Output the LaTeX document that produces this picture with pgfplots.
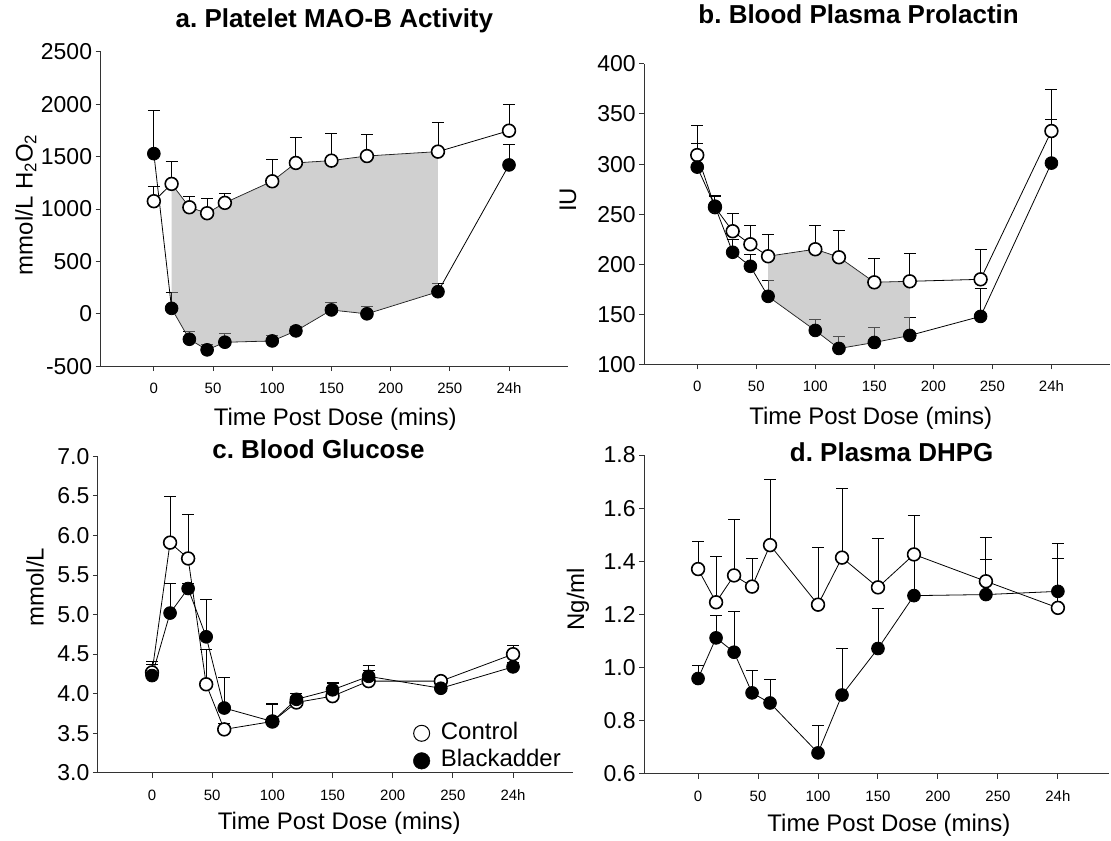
\documentclass[border=0pt]{standalone}
\usepackage{fontspec}
\setmainfont{Liberation Sans}
\usepackage{pgfplots}
\pgfplotsset{compat=1.18}
\usepackage{pgfplotstable}

\definecolor{shade}{gray}{0.63}
\definecolor{axgray}{gray}{0.2}

% x: minutes (300 = 24h); c/b = control/Blackadder mean; ce/be = upper error
\pgfplotstableread{
x   c    ce   b     be
0   1075 142  1529  415
15  1240 216  52    156
30  1017 102  -243  70
45  960  137  -344  54
60  1059 89   -271  79
100 1265 213  -259  54
120 1440 241  -163  43
150 1462 257  37    70
180 1506 204  0     73
240 1548 282  211   76
300 1748 250  1421  196
}\mao

\pgfplotstableread{
x   c    ce   b    be
0   309  30   297  24
15  257  12   258  10
30  233  18   212  13
45  220  19   198  12
60  208  22   168  16
100 215  24   134  11
120 207  27   116  12
150 182  24   122  15
180 183  28   129  18
240 185  30   148  28
300 333  42   301  44
}\prl

\pgfplotstableread{
x   c     ce    b     be
0   4.27  0.14  4.23  0.14
15  5.91  0.58  5.02  0.37
30  5.71  0.55  5.33  0.07
45  4.12  0.44  4.72  0.47
60  3.55  0.07  3.82  0.39
100 3.65  0.23  3.65  0.21
120 3.89  0.12  3.93  0.08
150 3.97  0.17  4.05  0.08
180 4.16  0.14  4.22  0.14
240 4.16  0.04  4.07  0.05
300 4.50  0.11  4.34  0.06
}\glu

\pgfplotstableread{
x   c     ce    b     be
0   1.371 0.103 0.959 0.048
15  1.246 0.172 1.112 0.084
30  1.347 0.209 1.058 0.152
45  1.305 0.105 0.905 0.084
60  1.461 0.249 0.867 0.087
100 1.237 0.214 0.679 0.102
120 1.414 0.259 0.897 0.177
150 1.302 0.184 1.072 0.150
180 1.426 0.148 1.271 0.169
240 1.325 0.164 1.275 0.132
300 1.225 0.244 1.287 0.124
}\dhpg

\pgfplotsset{
  panel/.style={
    scale only axis, axis lines*=left, tick align=outside,
    major tick length=5pt,
    axis line style={axgray, line width=1.1pt},
    every tick/.style={axgray, line width=1pt},
    xmin=-45, xmax=350,
    xtick={0,50,...,300}, xticklabels={0,50,100,150,200,250,24h},
    xticklabel style={font=\fontsize{15}{17}\selectfont, yshift=-8pt,
      text height=11pt, text depth=0pt},
    yticklabel style={font=\fontsize{23}{26}\selectfont},
    /pgf/number format/assume math mode=true,
    /pgf/number format/1000 sep={},
    label style={font=\fontsize{24}{27}\selectfont},
    title style={font=\bfseries\fontsize{26}{29}\selectfont, anchor=base},
    xlabel={Time Post Dose (mins)},
  },
  errs/.style={
    error bars/y dir=plus, error bars/y explicit, error bars/error mark=-,
    error bars/error bar style={black, line width=0.9pt},
    error bars/error mark options={black, line width=0.9pt, mark size=6pt, rotate=90}},
  ctl/.style={black, line width=0.8pt, mark=*, mark size=6.4pt,
    mark options={fill=white, draw=black, line width=1.6pt}, errs},
  bla/.style={black, line width=0.8pt, mark=*, mark size=6.4pt,
    mark options={fill=black, draw=black}, errs},
  shadefill/.style={fill=shade, fill opacity=0.5, draw=none, mark=none},
}

\begin{document}
\frenchspacing
\begin{tikzpicture}

% a. Platelet MAO-B
\begin{axis}[panel, at={(100.7pt,474.3pt)}, anchor=south west,
  width=468.3pt, height=314.7pt,
  ymin=-500, ymax=2500, ytick={-500,0,...,2500},
  title={a. Platelet MAO-B Activity},
  title style={at={(axis description cs:0.5,1.059)}},
  ylabel={mmol/L H\textsubscript{2}O\textsubscript{2}},
  ylabel style={at={(axis description cs:-0.16,0.514)}, anchor=center},
  xlabel style={at={(axis description cs:0.502,-0.19)}, anchor=base},
]
\addplot[ctl] table[x=x, y=c, y error=ce] {\mao};
\addplot[bla] table[x=x, y=b, y error=be] {\mao};
% shaded area between the two groups, 15 to 240 min
\addplot[shadefill] coordinates {
  (15,1240) (30,1017) (45,960) (60,1059) (100,1265) (120,1440)
  (150,1462) (180,1506) (240,1548)
  (240,211) (180,0) (150,37) (120,-163) (100,-259) (60,-271)
  (45,-344) (30,-243) (15,52)};
\end{axis}

% b. Prolactin
\begin{axis}[panel, at={(645pt,476pt)}, anchor=south west,
  width=467pt, height=301pt,
  ymin=100, ymax=400, ytick={100,150,...,400},
  title={b. Blood Plasma Prolactin},
  title style={at={(axis description cs:0.46,1.113)}},
  ylabel={IU},
  ylabel style={at={(axis description cs:-0.163,0.548)}, anchor=center},
  xlabel style={at={(axis description cs:0.486,-0.2)}, anchor=base},
]
\addplot[ctl] table[x=x, y=c, y error=ce] {\prl};
\addplot[bla] table[x=x, y=b, y error=be] {\prl};
% shaded area, 60 to 180 min
\addplot[shadefill] coordinates {
  (60,208) (100,215) (120,207) (150,182) (180,183)
  (180,129) (150,122) (120,116) (100,134) (60,168)};
\end{axis}

% c. Glucose
\begin{axis}[panel, at={(98pt,67pt)}, anchor=south west,
  width=476pt, height=317pt,
  ymin=3, ymax=7, ytick={3,3.5,...,7},
  yticklabel style={/pgf/number format/.cd, fixed, fixed zerofill, precision=1},
  title={c. Blood Glucose},
  title style={at={(axis description cs:0.464,0.975)}},
  ylabel={mmol/L},
  ylabel style={at={(axis description cs:-0.132,0.587)}, anchor=center},
  xlabel style={at={(axis description cs:0.508,-0.18)}, anchor=base},
  legend style={draw=none, fill=none, font=\fontsize{24}{27}\selectfont,
    at={(axis description cs:0.657,0.17)}, anchor=north west,
    nodes={inner sep=1pt, text height=17pt, text depth=5pt},
    row sep=3.6pt, column sep=10pt},
  legend cell align=left,
]
\addplot[ctl, forget plot] table[x=x, y=c, y error=ce] {\glu};
\addplot[bla, forget plot] table[x=x, y=b, y error=be] {\glu};
\addlegendimage{only marks, mark=*, mark size=8pt, mark options={fill=white, draw=black, line width=1pt}}
\addlegendentry{Control}
\addlegendimage{only marks, mark=*, mark size=8.3pt, mark options={fill=black, draw=black}}
\addlegendentry{Blackadder}
\end{axis}

% d. DHPG
\begin{axis}[panel, at={(645pt,66pt)}, anchor=south west,
  width=466pt, height=319.3pt, xmax=343,
  ymin=0.6, ymax=1.8, ytick={0.6,0.8,...,1.8},
  yticklabel style={/pgf/number format/.cd, fixed, fixed zerofill, precision=1},
  title={d. Plasma DHPG},
  title style={at={(axis description cs:0.532,0.96)}},
  ylabel={Ng/ml},
  ylabel style={at={(axis description cs:-0.142,0.548)}, anchor=center},
  xlabel style={at={(axis description cs:0.526,-0.182)}, anchor=base},
]
\addplot[ctl] table[x=x, y=c, y error=ce] {\dhpg};
\addplot[bla] table[x=x, y=b, y error=be] {\dhpg};
\end{axis}

\path (0pt,0pt) (1111pt,841pt);
\end{tikzpicture}
\end{document}
